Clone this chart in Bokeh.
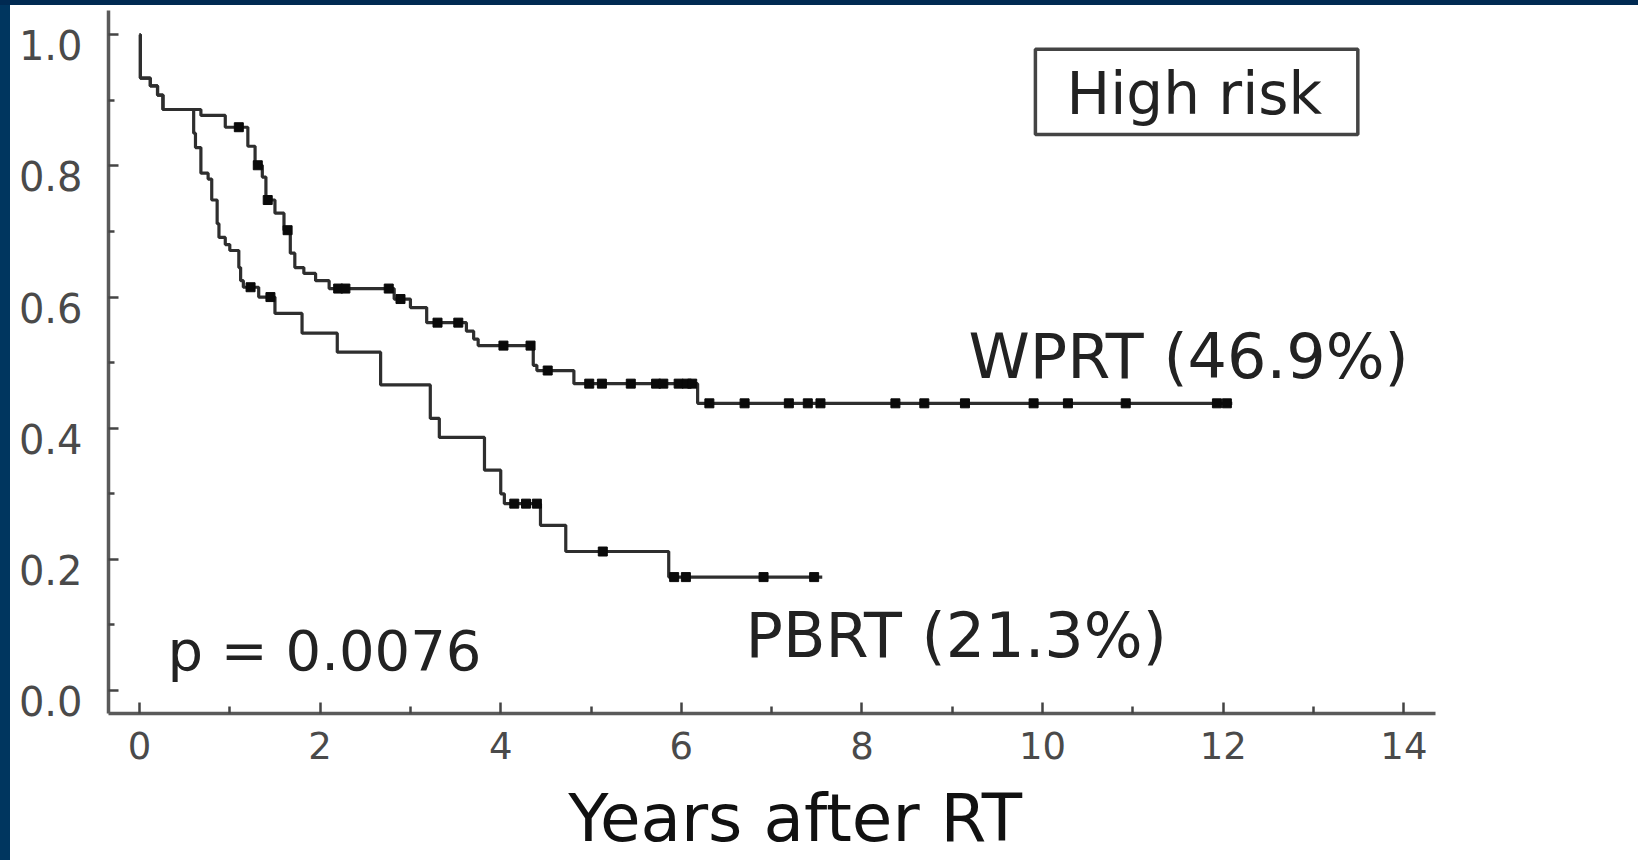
import numpy as np
from bokeh.plotting import figure
from bokeh.models import Range1d, FixedTicker, Label, BoxAnnotation, Div, LinearAxis
from bokeh.layouts import column, row
from bokeh.embed import file_html
from bokeh.resources import INLINE

# ---- data ----
wprt_t = [0, 0.01, 0.12, 0.20, 0.26, 0.68, 0.95, 1.20, 1.28, 1.36, 1.40, 1.50, 1.60,
          1.67, 1.72, 1.82, 1.95, 2.10, 2.82, 3.00, 3.18, 3.62, 3.70, 3.75, 4.36,
          4.40, 4.81, 6.18, 12.10]
wprt_s = [1.0, 0.934, 0.922, 0.908, 0.886, 0.877, 0.859, 0.830, 0.801, 0.783, 0.748,
          0.728, 0.702, 0.667, 0.645, 0.636, 0.625, 0.613, 0.597, 0.584, 0.561,
          0.548, 0.536, 0.526, 0.496, 0.488, 0.468, 0.438, 0.438]
wprt_cens = [1.10, 1.31, 1.42, 1.64, 2.20, 2.28, 2.76, 2.89, 3.30, 3.53, 4.03, 4.33,
             4.52, 4.98, 5.12, 5.44, 5.72, 5.80, 5.97, 6.06, 6.12, 6.31, 6.70, 7.19,
             7.40, 7.54, 8.37, 8.69, 9.14, 9.90, 10.28, 10.92, 11.93, 12.04]

pbrt_t = [0, 0.01, 0.12, 0.20, 0.26, 0.60, 0.62, 0.68, 0.76, 0.80, 0.86, 0.88, 0.95,
          1.00, 1.10, 1.12, 1.15, 1.32, 1.50, 1.80, 2.19, 2.67, 3.22, 3.32, 3.82,
          4.00, 4.04, 4.44, 4.72, 5.86, 7.56]
pbrt_s = [1.0, 0.934, 0.922, 0.908, 0.886, 0.850, 0.828, 0.789, 0.780, 0.748, 0.712,
          0.691, 0.680, 0.671, 0.645, 0.625, 0.615, 0.600, 0.575, 0.545, 0.516,
          0.466, 0.415, 0.386, 0.336, 0.300, 0.285, 0.252, 0.212, 0.173, 0.173]
pbrt_cens = [1.23, 1.45, 4.15, 4.28, 4.40, 5.13, 5.92, 6.05, 6.91, 7.47]

x_ticks = [0, 2, 4, 6, 8, 10, 12, 14]
x_minor = [1, 3, 5, 7, 9, 11, 13]
y_ticks = [0.0, 0.2, 0.4, 0.6, 0.8, 1.0]
y_minor = [0.1, 0.3, 0.5, 0.7, 0.9]
y_labels = {0.0: "0.0", 0.2: "0.2", 0.4: "0.4", 0.6: "0.6", 0.8: "0.8", 1.0: "1.0"}

wprt_label = "WPRT (46.9%)"
pbrt_label = "PBRT (21.3%)"
p_label = "p = 0.0076"
risk_label = "High risk"
x_title = "Years after RT"


def step_value(t, s, c):
    idx = np.searchsorted(np.asarray(t), np.asarray(c), side="right") - 1
    return np.asarray(s)[idx]


FONT = "DejaVu Sans"
LINE = "#2e2e2e"
NAVY_LEFT = "#00365f"
NAVY_TOP = "#002a52"

FIG_W = 1628
FIG_H = 770          # main plot (frame bottom at page y 713)
TITLE_H = 85         # strip below that holds the x-axis title
BORDER_L, BORDER_R = 98, FIG_W - 1425
Y0, Y1 = -0.035, 1.037
LABEL_SHIFT = 0.016  # y tick labels sit slightly below their ticks in the original

p = figure(width=FIG_W, height=FIG_H, output_backend="svg", toolbar_location=None,
           x_range=Range1d(-0.343, 14.35), y_range=Range1d(Y0, Y1),
           min_border_left=BORDER_L, min_border_right=BORDER_R, min_border_top=5,
           min_border_bottom=FIG_H - 708, background_fill_color="white",
           border_fill_color="white")
p.xgrid.visible = False
p.ygrid.visible = False
p.outline_line_color = None
p.extra_y_ranges = {"labels": Range1d(Y0 + LABEL_SHIFT, Y1 + LABEL_SHIFT)}

# curves
p.step(x=pbrt_t, y=pbrt_s, mode="after", line_color=LINE, line_width=3.2)
p.step(x=wprt_t, y=wprt_s, mode="after", line_color=LINE, line_width=3.2)
p.scatter(x=wprt_cens, y=step_value(wprt_t, wprt_s, wprt_cens), marker="square",
          size=9, fill_color="#0a0a0a", line_color="#0a0a0a")
p.scatter(x=pbrt_cens, y=step_value(pbrt_t, pbrt_s, pbrt_cens), marker="square",
          size=9, fill_color="#0a0a0a", line_color="#0a0a0a")

# axes
for ax in (p.xaxis[0], p.yaxis[0]):
    ax.axis_line_color = "#5a5a5a"
    ax.axis_line_width = 3.5
    ax.major_tick_line_color = "#444444"
    ax.minor_tick_line_color = "#444444"
    ax.major_tick_line_width = 2.5
    ax.minor_tick_line_width = 2.5
    ax.major_tick_out = 0
    ax.minor_tick_out = 0
    ax.major_label_text_font = FONT
    ax.major_label_text_color = "#4a4a4a"

p.xaxis.ticker = FixedTicker(ticks=x_ticks, minor_ticks=x_minor)
p.xaxis.major_tick_in = 11
p.xaxis.minor_tick_in = 7
p.xaxis.major_label_text_font_size = "37px"
p.xaxis.major_label_standoff = 18

# main y axis: line and ticks only
yax = p.yaxis[0]
yax.ticker = FixedTicker(ticks=y_ticks, minor_ticks=y_minor)
yax.major_label_overrides = {v: "" for v in y_ticks}
yax.major_label_standoff = 0
yax.major_tick_in = 10
yax.minor_tick_in = 6

# second y axis carrying the tick labels, nudged below their ticks
lab_ax = LinearAxis(y_range_name="labels",
                    ticker=FixedTicker(ticks=y_ticks, minor_ticks=[]),
                    major_label_overrides=y_labels,
                    axis_line_color=None, major_tick_line_color=None,
                    minor_tick_line_color=None, major_tick_in=0, major_tick_out=0,
                    minor_tick_in=0, minor_tick_out=0,
                    major_label_standoff=26, major_label_text_font=FONT,
                    major_label_text_font_size="40px",
                    major_label_text_color="#4a4a4a")
p.add_layout(lab_ax, "left")

# annotations
p.add_layout(BoxAnnotation(left=9.92, right=13.49, bottom=0.848, top=0.978,
                           fill_color="white", fill_alpha=1.0,
                           line_color="#444444", line_alpha=1.0, line_width=3.5))
p.add_layout(Label(x=11.68, y=0.909, text=risk_label, text_align="center",
                   text_baseline="alphabetic", text_font=FONT,
                   text_font_size="58px", text_color="#222222"))
p.add_layout(Label(x=9.18, y=0.510, text=wprt_label, text_align="left",
                   text_baseline="alphabetic", text_font=FONT,
                   text_font_size="62px", text_color="#222222"))
p.add_layout(Label(x=6.71, y=0.084, text=pbrt_label, text_align="left",
                   text_baseline="alphabetic", text_font=FONT,
                   text_font_size="62px", text_color="#222222"))
p.add_layout(Label(x=0.31, y=0.061, text=p_label, text_align="left",
                   text_baseline="alphabetic", text_font=FONT,
                   text_font_size="56px", text_color="#222222"))

# strip under the plot carrying the x-axis title (same x scale as the plot)
p2 = figure(width=FIG_W, height=TITLE_H, output_backend="svg", toolbar_location=None,
            x_range=p.x_range, y_range=Range1d(0, TITLE_H),
            x_axis_type=None, y_axis_type=None,
            min_border_left=BORDER_L, min_border_right=BORDER_R,
            min_border_top=0, min_border_bottom=0,
            background_fill_color="white", border_fill_color="white")
p2.grid.visible = False
p2.outline_line_color = None
p2.add_layout(Label(x=7.26, y=42, text=x_title, text_align="center",
                    text_baseline="alphabetic", text_font=FONT,
                    text_font_size="66px", text_color="#111111"))

top_strip = Div(text="", width=10 + FIG_W, height=5, margin=0,
                styles={"background-color": NAVY_TOP})
left_strip = Div(text="", width=10, height=FIG_H + TITLE_H, margin=0,
                 styles={"background-color": NAVY_LEFT})
layout = column(top_strip, row(left_strip, column(p, p2, spacing=0), spacing=0),
                spacing=0)

open("out.html", "w").write(file_html(layout, INLINE))
